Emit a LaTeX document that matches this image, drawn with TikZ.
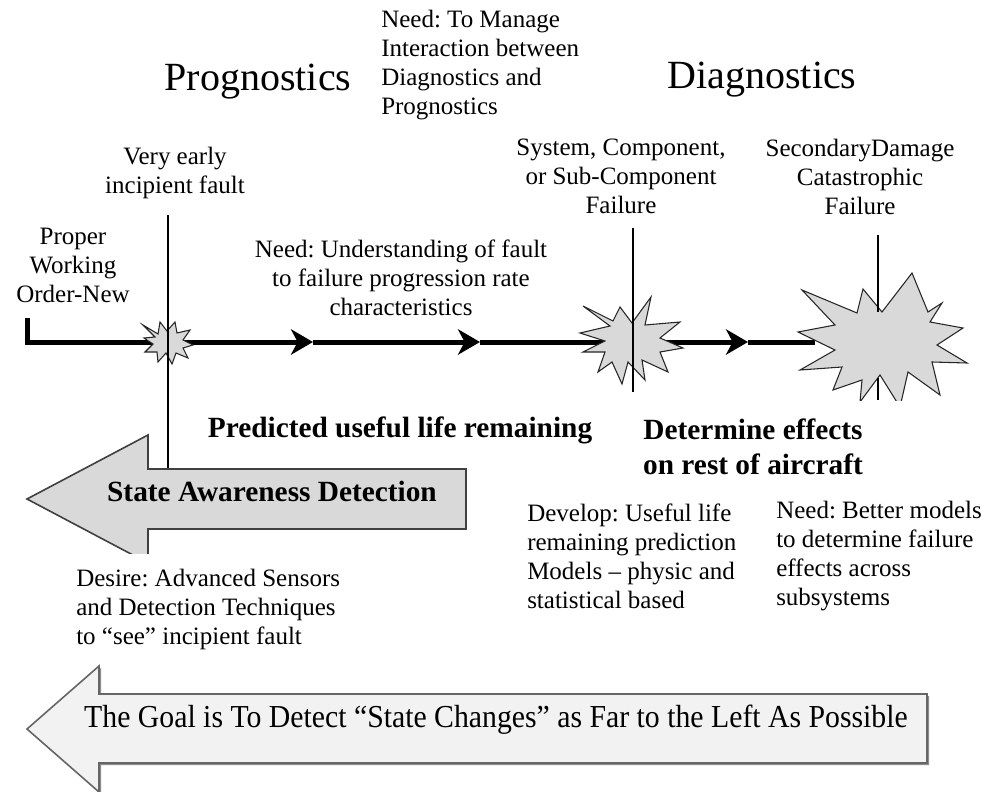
\documentclass[tikz,border=0pt]{standalone}
\usepackage{fontspec}
\setmainfont{Liberation Serif}
\usetikzlibrary{arrows.meta}
\definecolor{starfill}{HTML}{D9D9D9}
\definecolor{goalfill}{HTML}{F2F2F2}
\definecolor{edgegray}{HTML}{404040}
\frenchspacing
\begin{document}
\begin{tikzpicture}[x=0.75pt,y=-0.75pt,
  txt/.style={inner sep=0pt, font=\fontsize{18.75}{21.75}\selectfont, align=center},
  txtl/.style={txt, align=left, anchor=west},
  headtxt/.style={inner sep=0pt, font=\fontsize{30}{34}\selectfont},
  boldtxt/.style={inner sep=0pt, font=\fontsize{22}{26.25}\selectfont\bfseries, align=center},
  timeline/.style={line width=3.75pt, line join=miter},
  thinline/.style={line width=1pt},
  burst/.style={fill=starfill, draw=black!85, line width=0.8pt, line join=miter},
  tipped/.style={-{Stealth[length=16.5pt,width=19pt,inset=5pt]}},
  bigarrow/.style={fill=starfill, draw=edgegray, line width=1.2pt},
  goalarrow/.style={fill=goalfill, draw=black!60, line width=1.2pt}
]
\useasboundingbox (0,0) rectangle (982,792);
\fill[white] (0,0) rectangle (982,792);

% ---- timeline ----
\coordinate (t0) at (27,318);
\coordinate (t1) at (27,342);
\coordinate (a1) at (313,342);
\coordinate (a2) at (480,342);
\coordinate (a3) at (748,342);
\coordinate (tend) at (815,342);
\draw[timeline,tipped] (t0) -- (t1) -- (a1);
\draw[timeline,tipped] (a1) -- (a2);
\draw[timeline,tipped] (a2) -- (a3);
\draw[timeline] (a3) -- (tend);

% ---- vertical lines ----
\coordinate (v1t) at (168,215);
\coordinate (v1b) at (168,469);
\coordinate (v2t) at (633,228);
\coordinate (v2b) at (633,392);
\coordinate (v3t) at (878,235);
\coordinate (v3m) at (878,312);
\coordinate (v3n) at (878,378);
\coordinate (v3b) at (878,400);

% ---- bursts ----
\coordinate (s1) at (168,343);
\coordinate (s2) at (630,340);
\coordinate (s3) at (882,340);
\draw[burst] (143,325) -- (158,334) -- (160,322) -- (167,331) -- (175,322) -- (177,333)
  -- (190,330) -- (183,340) -- (193,345) -- (183,348) -- (188,358) -- (176,353)
  -- (172,364) -- (166,353) -- (158,362) -- (157,352) -- (145,352) -- (153,344)
  -- (144,338) -- (155,337) -- cycle;
\draw[burst] (580,333) -- (610,326) -- (583,306) -- (613,321) -- (620,307) -- (632,323)
  -- (651,297) -- (645,325) -- (680,322) -- (660,338) -- (683,348) -- (660,352)
  -- (668,372) -- (642,360) -- (645,380) -- (628,362) -- (622,384) -- (612,362)
  -- (598,372) -- (605,352) -- (583,352) -- (605,341) -- cycle;
\begin{scope}
  \clip (770,240) rectangle (990,400);
  \draw[burst] (798,332) -- (835,325) -- (802,290) -- (857,313) -- (863,289) -- (882,312)
    -- (912,273) -- (928,312) -- (942,303) -- (930,322) -- (963,328) -- (937,345)
    -- (967,363) -- (932,362) -- (940,395) -- (908,372) -- (900,407) -- (880,375)
    -- (860,402) -- (862,380) -- (833,390) -- (842,367) -- (800,370) -- (835,350) -- cycle;
\end{scope}
\draw[thinline] (v1t) -- (v1b);
\draw[thinline] (v2t) -- (v2b);
\draw[thinline] (v3t) -- (v3m);
\draw[thinline] (v3n) -- (v3b);

% ---- State Awareness arrow ----
\begin{scope}
  \clip (0,420) rectangle (500,553);
  \draw[bigarrow] (27,499) -- (148,435) -- (148,469) -- (466,469) -- (466,529)
    -- (148,529) -- (148,563) -- cycle;
\end{scope}
\node[boldtxt] (state) at (272,491) {State Awareness Detection};

% ---- Goal arrow ----
\fill[black!45] (29,731) -- (101,668) -- (101,696) -- (929,696) -- (929,765)
  -- (101,765) -- (101,794) -- cycle;
\draw[goalarrow] (27,729) -- (99,666) -- (99,694) -- (927,694) -- (927,763)
  -- (99,763) -- (99,792) -- cycle;
\node[inner sep=0pt, font=\fontsize{24}{28}\selectfont] (goal) at (496,720)
  {\scalebox{0.93}[1]{The Goal is To Detect “State Changes” as Far to the Left As Possible}};

% ---- texts ----
\node[headtxt] (prog) at (258,82) {Prognostics};
\node[headtxt] (diag) at (762,80) {Diagnostics};
\node[txtl] (needmanage) at (381,65) {Need: To Manage\\Interaction between\\Diagnostics and\\Prognostics};
\node[txt] (veryearly) at (175,173) {Very early\\incipient fault};
\node[txt] (proper) at (73,265) {Proper\\Working\\Order-New};
\node[txt] (needunder) at (401,278) {Need: Understanding of fault\\to failure progression rate\\characteristics};
\node[txt] (system) at (621,176) {System, Component,\\or Sub-Component\\Failure};
\node[txt] (secondary) at (860,177) {SecondaryDamage\\Catastrophic\\Failure};
\node[boldtxt] (predicted) at (400,430) {Predicted useful life remaining};
\node[boldtxt] (determine) at (753,447) {Determine effects\\on rest of aircraft};
\node[txtl] (develop) at (527,556) {Develop: Useful life\\remaining prediction\\Models – physic and\\statistical based};
\node[txtl] (needbetter) at (776,556) {Need: Better models\\to determine failure\\effects across\\subsystems};
\node[txtl] (desire) at (76,609) {Desire: Advanced Sensors\\and Detection Techniques\\to “see” incipient fault};
\end{tikzpicture}
\end{document}
